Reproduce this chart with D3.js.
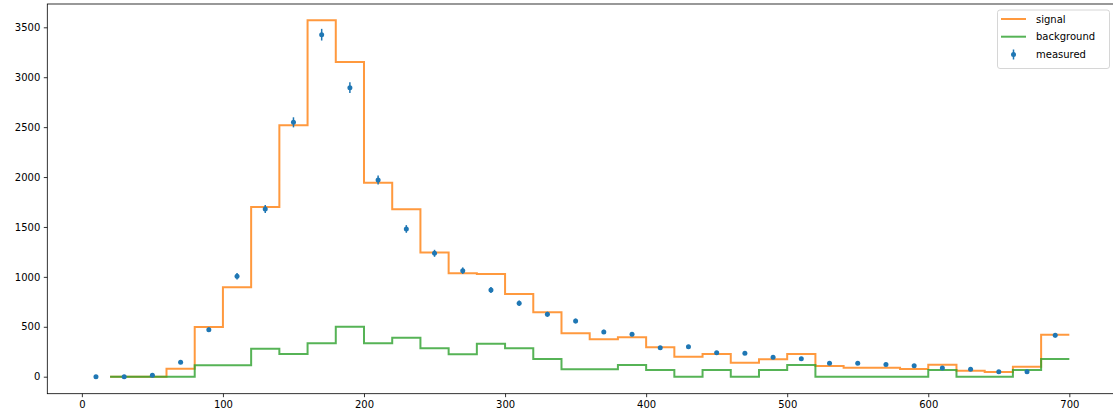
<!DOCTYPE html>
<html>
<head>
<meta charset="utf-8">
<script src="https://cdn.jsdelivr.net/npm/d3@7"></script>
<style>
  html, body { margin: 0; padding: 0; background: #fff; }
  svg { display: block; }
  text { font-family: "DejaVu Sans", sans-serif; font-size: 10px; fill: #000; }
</style>
</head>
<body>
<svg id="chart" width="1113" height="417"></svg>
<script>
// ---- data ----
const binEdges = [20,40,60,80,100,120,140,160,180,200,220,240,260,280,300,320,340,360,380,400,420,440,460,480,500,520,540,560,580,600,620,640,660,680,700];
const signal = [0,0,80,498,895,1700,2518,3570,3152,1943,1677,1245,1036,1029,828,645,435,375,395,294,200,227,140,174,227,107,90,90,77,120,60,47,100,421];
const background = [0,0,0,114,114,280,227,334,501,334,391,284,224,331,284,177,74,74,117,67,0,67,0,67,117,0,0,0,0,67,0,0,67,177];
const measuredX = [10,30,50,70,90,110,130,150,170,190,210,230,250,270,290,310,330,350,370,390,410,430,450,470,490,510,530,550,570,590,610,630,650,670,690];
const measuredY = [0,0,14,144,471,1006,1680,2548,3426,2895,1970,1480,1236,1062,868,735,625,558,448,425,291,301,241,234,194,181,134,134,121,110,87,74,50,50,414];
const measuredErr = [0,0,3.7,12,21.7,31.7,41,50.5,58.5,53.8,44.4,38.5,35.2,32.6,29.5,27.1,25,23.6,21.2,20.6,17.1,17.3,15.5,15.3,13.9,13.5,11.6,11.6,11,10.5,9.3,8.6,7.1,7.1,20.3];
const xTicks = [0,100,200,300,400,500,600,700];
const yTicks = [0,500,1000,1500,2000,2500,3000,3500];
const legendLabels = ["signal","background","measured"];

(function () {
// ---- layout ----
const svg = d3.select("#chart");
const mLeft = 47.3, mRight = 1118, mTop = 4, mBottom = 393.7;
const x = d3.scaleLinear().domain([-24.5, 734.5]).range([mLeft, mRight]);
const y = d3.scaleLinear().domain([-170.3, 3733.4]).range([mBottom, mTop]);

const colSignal = "#ff7f0e", colBg = "#2ca02c", colMeas = "#1f77b4";

function stepPoints(edges, vals) {
  const pts = [];
  for (let i = 0; i < vals.length; i++) {
    pts.push([edges[i], vals[i]]);
    pts.push([edges[i+1], vals[i]]);
  }
  return pts;
}
const line = d3.line().x(d => x(d[0])).y(d => y(d[1]));

const plot = svg.append("g");
plot.append("path")
  .attr("d", line(stepPoints(binEdges, signal)))
  .attr("fill", "none").attr("stroke", colSignal).attr("stroke-width", 2)
  .attr("stroke-opacity", 0.8).attr("stroke-linejoin", "miter");
plot.append("path")
  .attr("d", line(stepPoints(binEdges, background)))
  .attr("fill", "none").attr("stroke", colBg).attr("stroke-width", 2)
  .attr("stroke-opacity", 0.8).attr("stroke-linejoin", "miter");

const meas = measuredX.map((v, i) => ({x: v, y: measuredY[i], e: measuredErr[i]}));
plot.selectAll(".err").data(meas).enter().append("line")
  .attr("x1", d => x(d.x)).attr("x2", d => x(d.x))
  .attr("y1", d => y(d.y - d.e)).attr("y2", d => y(d.y + d.e))
  .attr("stroke", colMeas).attr("stroke-width", 1.5);
plot.selectAll(".pt").data(meas).enter().append("circle")
  .attr("cx", d => x(d.x)).attr("cy", d => y(d.y)).attr("r", 2.5)
  .attr("fill", colMeas);

const xAxis = svg.append("g").attr("transform", `translate(0,${mBottom})`)
  .call(d3.axisBottom(x).tickValues(xTicks).tickSize(3.5).tickPadding(3.5).tickFormat(d3.format("d")));
const yAxis = svg.append("g").attr("transform", `translate(${mLeft},0)`)
  .call(d3.axisLeft(y).tickValues(yTicks).tickSize(3.5).tickPadding(3.5).tickFormat(d3.format("d")));
[xAxis, yAxis].forEach(g => {
  g.select(".domain").remove();
  g.selectAll(".tick line").attr("stroke", "#000").attr("stroke-width", 0.8);
  g.selectAll(".tick text").attr("font-family", "DejaVu Sans").attr("font-size", 10).attr("fill", "#222");
});

svg.append("rect").attr("x", mLeft).attr("y", mTop).attr("width", mRight - mLeft).attr("height", mBottom - mTop)
  .attr("fill", "none").attr("stroke", "#000").attr("stroke-width", 0.8);

const lg = svg.append("g");
lg.append("rect").attr("x", 997.5).attr("y", 10).attr("width", 112).attr("height", 58.5)
  .attr("rx", 2.5).attr("fill", "#fff").attr("fill-opacity", 0.8)
  .attr("stroke", "#ccc").attr("stroke-width", 0.8);
const rowsY = [19, 36.7, 54.5];
lg.append("line").attr("x1", 1001).attr("x2", 1026).attr("y1", rowsY[0]).attr("y2", rowsY[0])
  .attr("stroke", colSignal).attr("stroke-width", 2).attr("stroke-opacity", 0.8);
lg.append("line").attr("x1", 1001).attr("x2", 1026).attr("y1", rowsY[1]).attr("y2", rowsY[1])
  .attr("stroke", colBg).attr("stroke-width", 2).attr("stroke-opacity", 0.8);
lg.append("line").attr("x1", 1013.5).attr("x2", 1013.5).attr("y1", rowsY[2] - 5).attr("y2", rowsY[2] + 5)
  .attr("stroke", colMeas).attr("stroke-width", 1.5);
lg.append("circle").attr("cx", 1013.5).attr("cy", rowsY[2]).attr("r", 2.5).attr("fill", colMeas);
legendLabels.forEach((t, i) => {
  lg.append("text").attr("x", 1036).attr("y", rowsY[i]).attr("dy", "0.35em").attr("fill", "#222").text(t);
});
})();
</script>
</body>
</html>
